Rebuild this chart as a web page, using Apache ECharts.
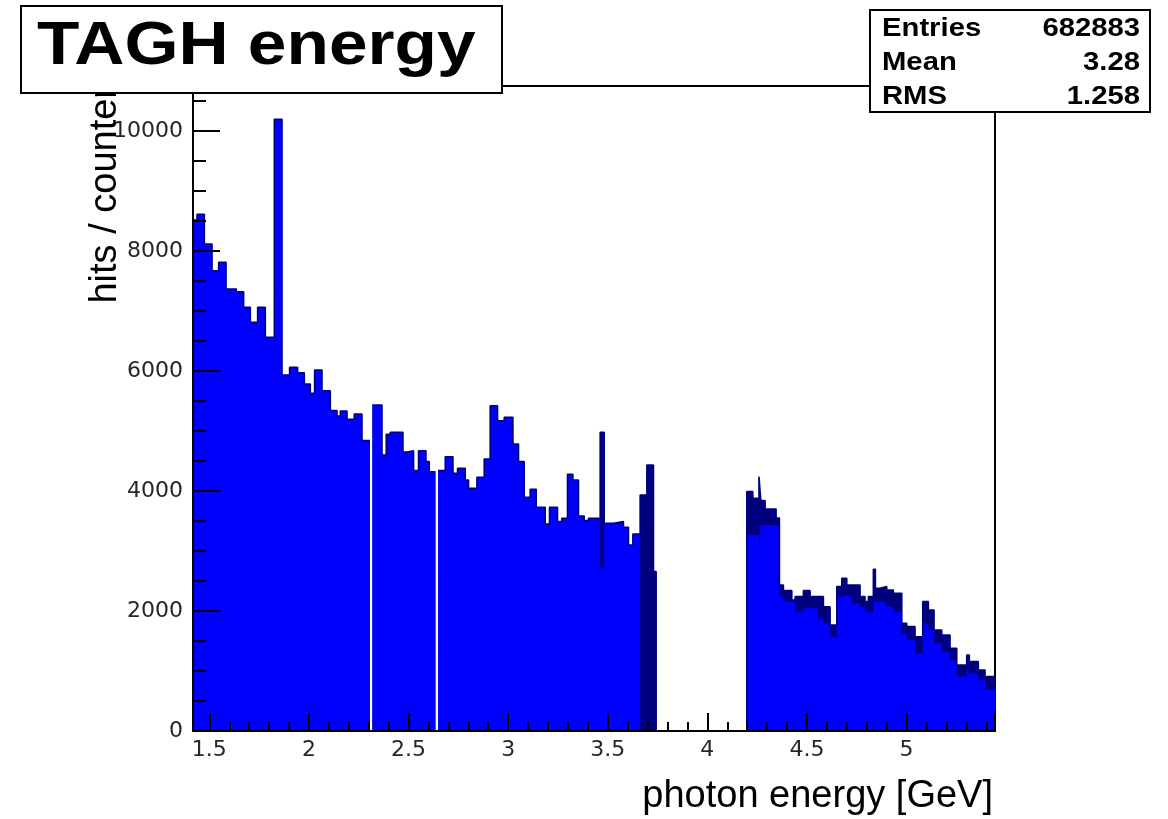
<!DOCTYPE html>
<html>
<head>
<meta charset="utf-8">
<title>TAGH energy</title>
<script src="https://cdn.jsdelivr.net/npm/echarts@6/dist/echarts.min.js"></script>
<style>
  html, body { margin: 0; padding: 0; background: #ffffff; }
  #chart { width: 1168px; height: 819px; }
</style>
</head>
<body>
<div id="chart"></div>
<script>
// Bin edges of the tagger-hodoscope energy histogram, in GeV (113 edges -> 112 bins)
const binEdges = [
  1.418, 1.4383, 1.4749, 1.5135, 1.5467, 1.5838, 1.6355, 1.6721, 1.7057, 1.7424,
  1.7810, 1.8262, 1.8648, 1.9029, 1.9431, 1.9767, 2.0068, 2.0284, 2.0655, 2.1072,
  2.1408, 2.1573, 2.1910, 2.2276, 2.2662, 2.3060, 2.3185, 2.3666, 2.3881, 2.4082,
  2.4719, 2.4920, 2.5251, 2.5502, 2.5873, 2.6039, 2.6350, 2.6480, 2.6842, 2.7228,
  2.7459, 2.7845, 2.8011, 2.8432, 2.8798, 2.9099, 2.9466, 2.9802, 3.0238, 3.0520,
  3.0806, 3.1107, 3.1408, 3.1859, 3.2075, 3.2476, 3.2697, 3.2978, 3.3249, 3.3530,
  3.3816, 3.4032, 3.4619, 3.4820, 3.5286, 3.5788, 3.6039, 3.6260, 3.6626, 3.6962,
  3.7293, 3.7429, 4.1980, 4.2281, 4.2590, 4.2682, 4.2898, 4.3450, 4.3616, 4.3817,
  4.4238, 4.4404, 4.4820, 4.5156, 4.5523, 4.5824, 4.6160, 4.6496, 4.6747, 4.6998,
  4.7249, 4.7665, 4.7915, 4.8081, 4.8332, 4.8433, 4.8668, 4.9004, 4.9335, 4.9757,
  5.0008, 5.0424, 5.0811, 5.1092, 5.1378, 5.1764, 5.2181, 5.2517, 5.3019, 5.3149,
  5.3601, 5.3937, 5.4438
];

// Hits per counter: lowest level inside each bin (solid blue body)
const hitsLow = [
  8517, 8611, 8117, 7672, 7811, 7367, 7322, 7061, 6811, 7061,
  6560, 10194, 5933, 6061, 5972, 5783, 5628, 6017, 5672, 5339,
  5250, 5333, 5194, 5283, 4840, 0, 5433, 4600, 4944, 4978,
  4650, 4672, 4339, 4672, 4489, 4322, 0, 4339, 4572, 4294,
  4378, 4183, 4044, 4228, 4533, 5422, 5172, 5228, 4783, 4489,
  3894, 4028, 3728, 3450, 3728, 3489, 3544, 4278, 4183, 3583,
  3506, 3544, 2711, 3461, 3489, 3394, 3100, 3283, 0, 0,
  0, 0, 3267, 3267, 3017, 3433, 3433, 3400, 2239, 2156,
  2128, 1989, 2044, 2050, 1878, 1794, 1572, 2239, 2267, 2239,
  2128, 2072, 1989, 1961, 2161, 2161, 2128, 2072, 1989, 1628,
  1517, 1294, 1794, 1683, 1461, 1322, 1183, 906, 1011, 961,
  850, 683
];

// Hits per counter: highest level inside each bin (dark band where narrow channels fluctuate)
const hitsHigh = [
  8517, 8611, 8117, 7672, 7811, 7367, 7322, 7061, 6811, 7061,
  6560, 10194, 5933, 6061, 5972, 5783, 5628, 6017, 5672, 5339,
  5250, 5333, 5194, 5283, 4840, 0, 5433, 4600, 4944, 4978,
  4650, 4672, 4339, 4672, 4489, 4322, 0, 4339, 4572, 4294,
  4378, 4183, 4044, 4228, 4533, 5422, 5172, 5228, 4783, 4489,
  3894, 4028, 3728, 3450, 3728, 3489, 3544, 4278, 4183, 3583,
  3506, 3544, 4978, 3461, 3489, 3394, 3100, 3283, 3933, 4433,
  2656, 0, 3989, 3878, 4239, 3839, 3700, 3550, 2433, 2339,
  2183, 2239, 2339, 2239, 2239, 2072, 1767, 2406, 2544, 2433,
  2433, 2239, 2156, 2239, 2694, 2378, 2406, 2350, 2294, 1794,
  1739, 1572, 2156, 2017, 1683, 1600, 1378, 1100, 1267, 1156,
  1017, 906
];

const titleText = 'TAGH energy';
const xTitle = 'photon energy [GeV]';
const yTitle = 'hits / counter';
const statsNames = ['Entries', 'Mean', 'RMS'];
const statsValues = ['682883', '3.28', '1.258'];

const FILL_BLUE = '#0000ff';
const NAVY = '#00007f';
const FONT = '"Liberation Sans", Arial, Helvetica, sans-serif';
const LABEL_FONT = '"DejaVu Sans", "Liberation Sans", sans-serif';

// Closed step contour of a histogram: every bin contributes its two top corners.
function stepContour(values) {
  const pts = [];
  for (let i = 0; i < values.length; i++) {
    pts.push([binEdges[i], values[i]], [binEdges[i + 1], values[i]]);
  }
  return pts;
}

// Outline of the histogram; a single dead channel leaves a bare gap with no edge lines.
function stepOutline(values) {
  const pts = [];
  for (let i = 0; i < values.length; i++) {
    const w = binEdges[i + 1] - binEdges[i];
    if (values[i] === 0 && w < 0.02) {
      pts.push(['-', '-']);
      continue;
    }
    pts.push([binEdges[i], values[i]], [binEdges[i + 1], values[i]]);
  }
  return pts;
}

const xMin = binEdges[0];
const xMax = binEdges[binEdges.length - 1];

const chart = echarts.init(document.getElementById('chart'), null, { renderer: 'canvas' });

const labelStyle = { color: '#262626', fontSize: 22, fontFamily: LABEL_FONT };

chart.setOption({
  animation: false,
  backgroundColor: '#ffffff',
  grid: {
    left: 193, right: 173, top: 86, bottom: 88,
    show: true, borderColor: '#000', borderWidth: 2, backgroundColor: 'transparent'
  },
  xAxis: {
    type: 'value',
    z: 10,
    min: xMin, max: xMax,
    minInterval: 0.5, maxInterval: 0.5, splitNumber: 8,
    axisLine: { show: true, onZero: false, lineStyle: { color: '#000', width: 2 } },
    axisTick: { show: true, inside: true, length: 18, lineStyle: { color: '#000', width: 2 } },
    minorTick: { show: true, splitNumber: 5, length: 9, lineStyle: { color: '#000', width: 2 } },
    splitLine: { show: false },
    minorSplitLine: { show: false },
    axisLabel: {
      ...labelStyle, margin: 8,
      formatter: v => (Math.abs(v * 2 - Math.round(v * 2)) < 1e-6 ? String(+v.toFixed(1)) : '')
    }
  },
  yAxis: {
    type: 'value',
    z: 10,
    min: 0, max: 10750, interval: 2000,
    axisLine: { show: true, onZero: false, lineStyle: { color: '#000', width: 2 } },
    axisTick: { show: true, inside: true, length: 27, lineStyle: { color: '#000', width: 2 } },
    minorTick: { show: true, splitNumber: 4, length: 13, lineStyle: { color: '#000', width: 2 } },
    splitLine: { show: false },
    minorSplitLine: { show: false },
    axisLabel: {
      ...labelStyle, margin: 10,
      formatter: v => (v % 2000 === 0 ? String(v) : '')
    }
  },
  series: [
    {
      // fluctuation band of the narrow channels
      name: 'band', type: 'line', data: stepContour(hitsHigh),
      symbol: 'none', silent: true, clip: true,
      lineStyle: { width: 0, color: NAVY },
      areaStyle: { color: NAVY, opacity: 1 },
      z: 2
    },
    {
      name: 'hits', type: 'line', data: stepContour(hitsLow),
      symbol: 'none', silent: true, clip: true,
      lineStyle: { width: 0, color: FILL_BLUE },
      areaStyle: { color: FILL_BLUE, opacity: 1 },
      z: 3
    },
    {
      name: 'outline', type: 'line', data: stepOutline(hitsHigh),
      symbol: 'none', silent: true, clip: true, connectNulls: false,
      lineStyle: { width: 1.6, color: NAVY },
      z: 4
    }
  ],
  graphic: [
    {
      type: 'text', x: 993, y: 797, z: 50,
      style: { text: xTitle, fill: '#000', font: '38px ' + FONT, textAlign: 'right', textVerticalAlign: 'middle' }
    },
    {
      type: 'text', x: 106, y: 86, rotation: Math.PI / 2, z: 50,
      style: { text: yTitle, fill: '#000', font: '38px ' + FONT, textAlign: 'right', textVerticalAlign: 'middle' }
    },
    {
      type: 'rect', z: 100,
      shape: { x: 21, y: 6, width: 481, height: 87 },
      style: { fill: '#fff', stroke: '#000', lineWidth: 2 }
    },
    {
      type: 'text', x: 37, y: 47, scaleX: 1.12, z: 101,
      style: { text: titleText, fill: '#000', font: 'bold 62px ' + FONT, textAlign: 'left', textVerticalAlign: 'middle' }
    },
    {
      type: 'rect', z: 100,
      shape: { x: 870, y: 10, width: 280, height: 102 },
      style: { fill: '#fff', stroke: '#000', lineWidth: 2 }
    },
    ...statsNames.map((t, i) => ({
      type: 'text', x: 882, y: 29 + i * 34, scaleX: 1.17, z: 101,
      style: { text: t, fill: '#000', font: 'bold 25px ' + FONT, textAlign: 'left', textVerticalAlign: 'middle' }
    })),
    ...statsValues.map((t, i) => ({
      type: 'text', x: 1140, y: 29 + i * 34, scaleX: 1.17, z: 101,
      style: { text: t, fill: '#000', font: 'bold 25px ' + FONT, textAlign: 'right', textVerticalAlign: 'middle' }
    }))
  ]
});
</script>
</body>
</html>
